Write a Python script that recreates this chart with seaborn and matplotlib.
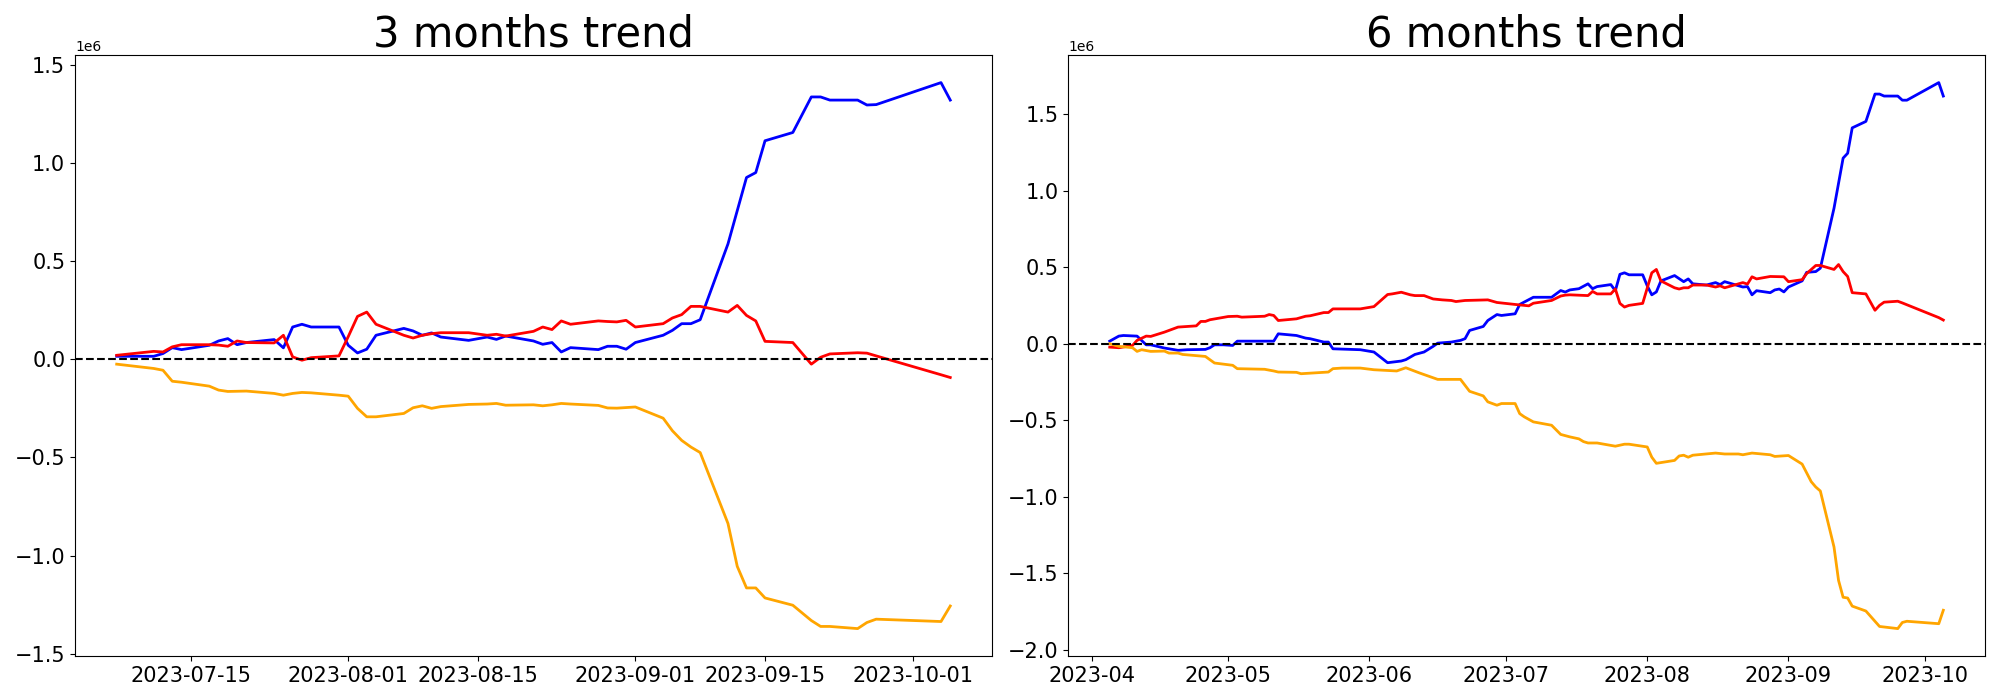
import numpy as np
import pandas as pd
import matplotlib
matplotlib.use("Agg")
import matplotlib.pyplot as plt
import seaborn as sns

SCALE = 1e6

# ---------------- 3 months trend (day offsets from 2023-07-07) ----------------
start_3m = "2023-07-07"
days_3m = [0, 4, 5, 6, 7, 10, 11, 12, 13, 14, 17, 18, 19, 20, 21, 24, 25, 26, 27, 28,
           31, 32, 33, 34, 35, 38, 40, 41, 42, 45, 46, 47, 48, 49, 52, 53, 54, 55, 56,
           59, 60, 61, 62, 63, 66, 67, 68, 69, 70, 73, 75, 76, 77, 80, 81, 82, 89, 90]
blue_3m = [0.015, 0.015, 0.029, 0.059, 0.049, 0.071, 0.093, 0.105, 0.074, 0.085,
           0.100, 0.058, 0.164, 0.178, 0.164, 0.164, 0.071, 0.032, 0.051, 0.122,
           0.157, 0.144, 0.122, 0.134, 0.113, 0.096, 0.113, 0.101, 0.118,
           0.093, 0.076, 0.085, 0.037, 0.059, 0.049, 0.066, 0.066, 0.051, 0.085,
           0.122, 0.147, 0.181, 0.181, 0.201, 0.587, 0.756, 0.925, 0.950, 1.112,
           1.154, 1.335, 1.335, 1.319, 1.319, 1.294, 1.296, 1.408, 1.319]
red_3m = [0.020, 0.040, 0.037, 0.063, 0.074, 0.074, 0.072, 0.066, 0.093, 0.085,
          0.083, 0.122, 0.012, -0.005, 0.008, 0.017, 0.115, 0.218, 0.240, 0.178,
          0.122, 0.108, 0.122, 0.130, 0.135, 0.135, 0.122, 0.127, 0.118,
          0.142, 0.164, 0.151, 0.195, 0.178, 0.195, 0.192, 0.190, 0.198, 0.164,
          0.181, 0.210, 0.227, 0.269, 0.269, 0.240, 0.274, 0.223, 0.195, 0.091,
          0.085, -0.025, 0.010, 0.027, 0.033, 0.031, 0.017, -0.079, -0.093]
orange_3m = [-0.025, -0.047, -0.056, -0.112, -0.117, -0.137, -0.157, -0.164, -0.163, -0.162,
             -0.174, -0.183, -0.174, -0.169, -0.171, -0.183, -0.188, -0.250, -0.293, -0.293,
             -0.276, -0.247, -0.237, -0.250, -0.241, -0.230, -0.228, -0.225, -0.234,
             -0.232, -0.237, -0.232, -0.225, -0.228, -0.235, -0.248, -0.249, -0.246, -0.243,
             -0.300, -0.364, -0.413, -0.447, -0.475, -0.836, -1.054, -1.164, -1.164, -1.215,
             -1.252, -1.330, -1.360, -1.360, -1.371, -1.340, -1.323, -1.335, -1.256]

# ---------------- 6 months trend (day offsets from 2023-04-05) ----------------
start_6m = "2023-04-05"
blue_6m_days = [0, 2, 3, 6, 8, 9, 12, 13, 15, 17, 21, 22, 23, 25, 27, 28, 36, 37, 41, 43,
                44, 47, 48, 49, 55, 58, 61, 64, 65, 67, 69, 71, 72, 75, 77, 78, 79, 82, 83, 85,
                86, 89, 90, 93, 97, 99, 100, 101, 103, 105, 106, 107, 110, 111, 112, 113, 114,
                117, 118, 119, 120, 121, 124, 126, 127, 128, 131, 133, 134, 135, 139, 140, 141,
                142, 145, 146, 147, 148, 149, 152, 153, 155, 156, 159, 161, 162, 163, 166, 168,
                169, 170, 173, 174, 175, 182, 183]
blue_6m = [0.017, 0.050, 0.054, 0.050, -0.007, -0.007, -0.028, -0.033, -0.043, -0.039,
           -0.037, -0.026, -0.007, -0.007, -0.011, 0.017, 0.017, 0.065, 0.054, 0.037,
           0.033, 0.011, 0.011, -0.033, -0.039, -0.054, -0.124, -0.113, -0.104, -0.070,
           -0.054, -0.017, 0.004, 0.011, 0.022, 0.033, 0.087, 0.113, 0.152, 0.191,
           0.185, 0.196, 0.257, 0.304, 0.304, 0.348, 0.338, 0.352, 0.360, 0.392, 0.360,
           0.374, 0.387, 0.347, 0.454, 0.464, 0.451, 0.451, 0.379, 0.320, 0.339, 0.411,
           0.446, 0.406, 0.424, 0.392, 0.384, 0.400, 0.387, 0.406, 0.371, 0.374, 0.320,
           0.347, 0.334, 0.352, 0.358, 0.339, 0.371, 0.411, 0.467, 0.472, 0.494, 0.886,
           1.214, 1.246, 1.412, 1.454, 1.633, 1.633, 1.620, 1.620, 1.593, 1.593, 1.708, 1.620]
red_6m_days = [0, 2, 5, 6, 8, 9, 12, 14, 15, 19, 20, 21, 22, 26, 28, 29, 34, 35, 36, 37,
               41, 43, 44, 47, 48, 49, 55, 58, 61, 62, 64, 66, 67, 69, 71, 73, 75, 76, 78, 83,
               85, 89, 92, 93, 97, 99, 100, 101, 105, 106, 107, 110, 111, 112, 113, 114, 117,
               119, 120, 121, 124, 125, 126, 127, 128, 131, 133, 134, 135, 139, 140, 141, 142,
               145, 148, 149, 152, 153, 155, 156, 159, 160, 161, 162, 163, 166, 168, 169, 170,
               173, 174, 182, 183]
red_6m = [-0.022, -0.026, -0.011, 0.022, 0.050, 0.048, 0.076, 0.098, 0.109, 0.117,
          0.146, 0.146, 0.157, 0.178, 0.180, 0.174, 0.180, 0.191, 0.185, 0.152,
          0.163, 0.180, 0.183, 0.204, 0.204, 0.228, 0.228, 0.243, 0.322, 0.326,
          0.337, 0.320, 0.315, 0.315, 0.293, 0.287, 0.283, 0.276, 0.283, 0.287,
          0.270, 0.257, 0.248, 0.265, 0.283, 0.312, 0.318, 0.320, 0.315, 0.342,
          0.326, 0.326, 0.358, 0.264, 0.240, 0.251, 0.264, 0.464, 0.486, 0.411,
          0.366, 0.358, 0.366, 0.366, 0.384, 0.384, 0.371, 0.379, 0.366, 0.400,
          0.390, 0.438, 0.424, 0.440, 0.438, 0.406, 0.419, 0.459, 0.512, 0.512,
          0.486, 0.518, 0.472, 0.440, 0.334, 0.326, 0.219, 0.251, 0.272, 0.278,
          0.267, 0.171, 0.155]
orange_6m_days = [0, 2, 5, 6, 7, 9, 12, 13, 15, 16, 21, 23, 27, 28, 34, 36, 37, 41, 42, 48,
                  49, 51, 55, 58, 63, 65, 68, 72, 77, 79, 82, 83, 85, 86, 89, 90, 91, 93, 97,
                  99, 101, 103, 104, 105, 107, 111, 113, 114, 118, 119, 120, 124, 125, 126, 127,
                  128, 133, 135, 138, 139, 141, 145, 146, 149, 152, 154, 155, 156, 159, 160,
                  161, 162, 163, 166, 169, 173, 174, 175, 182, 183]
orange_6m = [0.000, -0.017, -0.026, -0.050, -0.039, -0.050, -0.048, -0.061, -0.061, -0.070,
             -0.083, -0.126, -0.141, -0.163, -0.167, -0.178, -0.185, -0.187, -0.196, -0.185,
             -0.163, -0.159, -0.159, -0.170, -0.178, -0.157, -0.191, -0.233, -0.233, -0.311,
             -0.341, -0.380, -0.402, -0.391, -0.391, -0.457, -0.478, -0.511, -0.533,
             -0.593, -0.609, -0.622, -0.640, -0.649, -0.649, -0.670, -0.657, -0.657, -0.675,
             -0.742, -0.782, -0.763, -0.734, -0.729, -0.742, -0.729, -0.715, -0.721, -0.721,
             -0.726, -0.715, -0.726, -0.737, -0.731, -0.787, -0.902, -0.937, -0.963, -1.329,
             -1.548, -1.658, -1.663, -1.716, -1.748, -1.849, -1.863, -1.823, -1.815, -1.831,
             -1.743]

titles = ["3 months trend", "6 months trend"]


def to_dates(start, days):
    return pd.Timestamp(start) + pd.to_timedelta(np.array(days), unit="D")


fig, axes = plt.subplots(1, 2, figsize=(20, 7), dpi=100)
fig.subplots_adjust(left=0.0375, right=0.9925, bottom=0.063, top=0.921, wspace=0.083)

panels = [
    (start_3m, [(days_3m, blue_3m, "blue"), (days_3m, red_3m, "red"), (days_3m, orange_3m, "orange")]),
    (start_6m, [(blue_6m_days, blue_6m, "blue"), (red_6m_days, red_6m, "red"),
                (orange_6m_days, orange_6m, "orange")]),
]

for ax, (start, series), title in zip(axes, panels, titles):
    for days, vals, color in series:
        df = pd.DataFrame({"date": to_dates(start, days), "value": np.array(vals) * SCALE})
        sns.lineplot(data=df, x="date", y="value", color=color, linewidth=2, ax=ax)
    ax.axhline(0, color="black", linestyle="--", linewidth=1.5)
    ax.set_title(title, fontsize=30)
    ax.tick_params(labelsize=15)
    ax.set_xlabel("")
    ax.set_ylabel("")

fig.savefig("out.png", dpi=100)
